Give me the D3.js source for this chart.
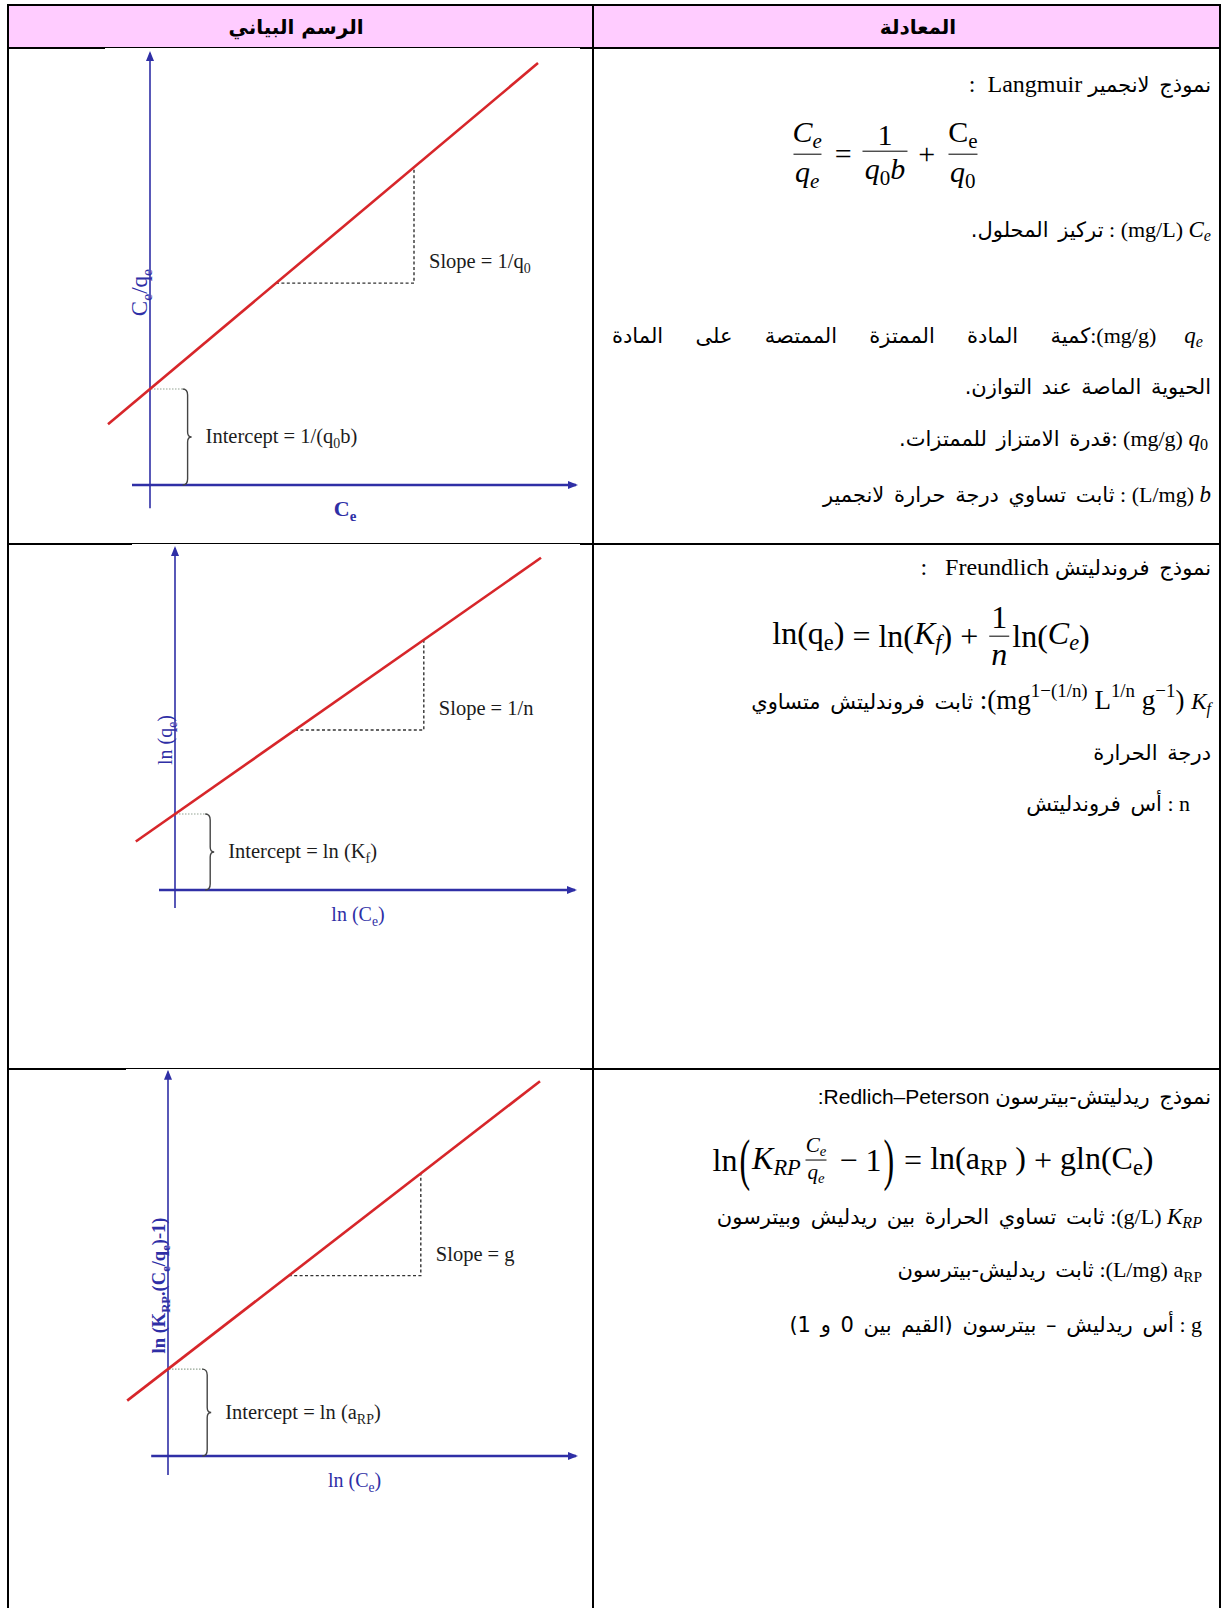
<!DOCTYPE html>
<html>
<head>
<meta charset="utf-8">
<script src="https://cdn.jsdelivr.net/npm/d3@7"></script>
<style>
  body { margin: 0; background: #fff; }
  #page { position: relative; overflow: hidden; font-family: "Liberation Serif", "DejaVu Sans", serif; }
  #page svg { position: absolute; left: 0; top: 0; }
  .ln { position: absolute; white-space: pre; line-height: 1.25; color: #000; transform: translateY(-50%); }
  .ar { unicode-bidi: isolate; direction: rtl; font-family: "DejaVu Sans", sans-serif; font-size: 21px; word-spacing: 3px; }
  .tx { font-size: 22px; }
  .tt { font-size: 24px; }
  .tb { font-size: 27px; }
  .mi { font-size: 23px; font-style: italic; }
  .mu { font-size: 23px; }
  .sans { font-family: "Liberation Sans", sans-serif; font-size: 21px; }
  .sub { font-size: 70%; vertical-align: -0.3em; }
  .sup { font-size: 70%; vertical-align: 0.62em; }
  .up { font-style: normal; }
  .eq { position: absolute; display: flex; align-items: center; white-space: nowrap; transform: translate(-50%, -50%); }
  .eq .tx, .eq .mi, .eq .mu, .eq .op { font-size: inherit; }
  .frac { display: inline-flex; flex-direction: column; align-items: center; margin: 0 3px; line-height: 1.12; }
  .frac .den { border-top: 1.7px solid #000; padding: 0 2px; }
  .frac .num { padding: 0 2px; }
  .frac.small { font-size: 66%; }
  .op { margin: 0 8px; }
  .paren { display: inline-block; transform: scaleY(1.8); margin: 0 2px; }
</style>
</head>
<body>
<div id="page"></div>
<script>
// table header
var headers = ["الرسم البياني", "المعادلة"];

// one schematic linear plot per isotherm model
var models = ["Langmuir", "Freundlich", "Redlich–Peterson"];
var intercepts = [2.4, 1.9, 2.05];
var slopes = [0.84, 0.70, 0.73];
var lineFrom = [-1.05, -0.98, -1.02];
var lineTo = [9.7, 9.15, 9.3];
var stepFrom = [3.15, 3.0, 3.02];
var stepTo = [6.6, 6.22, 6.32];
var xAxisExtent = [[-0.45, 10.65], [-0.4, 10.0], [-0.42, 10.2]];
var yAxisExtent = [[-0.58, 10.8], [-0.45, 8.55], [-0.45, 9.06]];
var braceAt = [0.94, 0.88, 0.98];

var xLabels = ["C_{e}", "ln (C_{e})", "ln (C_{e})"];
var yLabels = ["C_{e}/q_{e}", "ln (q_{e})", "ln (K_{RP}.(C_{e}/q_{e})-1)"];
var slopeLabels = ["Slope = 1/q_{0}", "Slope = 1/n", "Slope = g"];
var interceptLabels = ["Intercept = 1/(q_{0}b)", "Intercept = ln (K_{f})", "Intercept = ln (a_{RP})"];

// equation column: titles and definitions, in visual (left to right) order
var titles = [
  [["tt", ":  Langmuir "], ["ar", "نموذج لانجمير"]],
  [["tt", ":   Freundlich "], ["ar", "نموذج فروندليتش"]],
  [["sans", ":Redlich–Peterson "], ["ar", "نموذج ريدليتش-بيترسون"]]
];
var langmuirNotes = [
  [["ar", "تركيز المحلول."], ["tx", " : (mg/L) "], ["mi", "C_{e}"]],
  [["ar", "كمية المادة الممتزة الممتصة على المادة"], ["tx", ":(mg/g) "], ["mi", "q_{e}"]],
  [["ar", "الحيوية الماصة عند التوازن."]],
  [["ar", "قدرة الامتزاز للممتزات."], ["tx", ": (mg/g) "], ["mi", "q_{0}"]],
  [["ar", "ثابت تساوي درجة حرارة لانجمير"], ["tx", " : (L/mg) "], ["mi", "b"]]
];
var freundlichNotes = [
  [["ar", "ثابت فروندليتش متساوي"], ["tb", " :(mg^{1−(1/n)} L^{1/n} g^{−1}) "], ["mi", "K_{f}"]],
  [["ar", "درجة الحرارة"]],
  [["ar", "أس فروندليتش"], ["tx", " : n"]]
];
var redlichNotes = [
  [["ar", "ثابت تساوي الحرارة بين ريدليش وبيترسون"], ["tx", " :(g/L) "], ["mi", "K_{RP}"]],
  [["ar", "ثابت ريدليش-بيترسون"], ["tx", " :(L/mg) a_{RP}"]],
  [["ar", "أس ريدليش – بيترسون (القيم بين 0 و 1)"], ["tx", " : g"]]
];

// equations as token lists
var langmuirEq = [
  ["frac", ["mi", "C_{e}"], ["mi", "q_{e}"]], ["op", "="],
  ["frac", ["tx", "1"], ["mi", "q_{0}b"]], ["op", "+"],
  ["frac", ["tx", "C_{e}"], ["mi", "q_{0}"]]
];
var freundlichEq = [
  ["tx", "ln(q_{e})"], ["op", "="], ["tx", "ln("], ["mi", "K_{f}"], ["tx", ")"], ["op", "+"],
  ["frac", ["tx", "1"], ["mi", "n"]], ["tx", "ln("], ["mi", "C_{e}"], ["tx", ")"]
];
var redlichEq = [
  ["tx", "ln"], ["paren", "("], ["mi", "K_{RP}"], ["small", ["mi", "C_{e}"], ["mi", "q_{e}"]],
  ["op", "−"], ["tx", "1"], ["paren", ")"], ["op", "="], ["tx", "ln(a_{RP} )"], ["op", "+"], ["tx", "gln(C_{e})"]
];

// ---- layout ----
var W = 1228, H = 1608;
var colX = [8, 593, 1220];
var rowY = [5, 48, 544, 1069];
var plotOrigin = [[150, 485], [175, 890], [168, 1456]];
var unitX = [40, 40, 40], unitY = [40, 40, 42.4];
var imageLeft = [105, 132, 126];
var blue = "#2f2fa6", red = "#d7262a";

var page = d3.select("#page").style("width", W + "px").style("height", H + "px");
var svg = page.append("svg").attr("width", W).attr("height", H);

svg.append("defs").append("marker")
    .attr("id", "arrow")
    .attr("viewBox", "0 0 10 10")
    .attr("refX", 8).attr("refY", 5)
    .attr("markerWidth", 10).attr("markerHeight", 10)
    .attr("markerUnits", "userSpaceOnUse")
    .attr("orient", "auto")
  .append("path")
    .attr("d", "M0,1L10,5L0,9Z")
    .attr("fill", blue);

// header band
svg.append("rect")
    .attr("x", colX[0]).attr("y", rowY[0])
    .attr("width", colX[2] - colX[0]).attr("height", rowY[1] - rowY[0])
    .attr("fill", "#ffccff");

// grid lines
svg.selectAll(".hrule")
    .data(rowY)
  .enter().append("line")
    .attr("class", "hrule")
    .attr("x1", colX[0] - 1).attr("x2", colX[2] + 1)
    .attr("y1", function(d) { return d; }).attr("y2", function(d) { return d; })
    .attr("stroke", "#000").attr("stroke-width", 2);

svg.selectAll(".vrule")
    .data(colX)
  .enter().append("line")
    .attr("class", "vrule")
    .attr("x1", function(d) { return d; }).attr("x2", function(d) { return d; })
    .attr("y1", rowY[0] - 1).attr("y2", H)
    .attr("stroke", "#000").attr("stroke-width", 2);

svg.selectAll(".head")
    .data(headers)
  .enter().append("text")
    .attr("class", "head")
    .attr("x", function(d, i) { return i == 0 ? 296 : 918; })
    .attr("y", 34)
    .attr("text-anchor", "middle")
    .attr("font-family", "DejaVu Sans, sans-serif")
    .attr("font-weight", "bold")
    .attr("font-size", 20)
    .text(function(d) { return d; });

// svg text with _{sub}
function svgRich(text, str, drop) {
  var re = /_\{([^}]*)\}/g, last = 0, m, lift = false;
  function plain(s) {
    var ts = text.append("tspan").text(s);
    if (lift) ts.attr("dy", -drop);
    lift = false;
  }
  while ((m = re.exec(str))) {
    if (m.index > last) plain(str.slice(last, m.index));
    text.append("tspan").attr("dy", drop).attr("font-size", "68%").text(m[1]);
    lift = true;
    last = re.lastIndex;
  }
  if (last < str.length) plain(str.slice(last));
}

// ---- plots ----
models.forEach(function(name, i) {
  var o = plotOrigin[i];
  var x = d3.scaleLinear().domain([0, 1]).range([o[0], o[0] + unitX[i]]);
  var y = d3.scaleLinear().domain([0, 1]).range([o[1], o[1] - unitY[i]]);
  var fit = function(v) { return intercepts[i] + slopes[i] * v; };
  var g = svg.append("g").attr("class", "plot plot-" + i);

  var top = rowY[i + 1], bottom = i + 2 < rowY.length ? rowY[i + 2] - 2 : H;
  g.append("rect")
      .attr("x", imageLeft[i]).attr("y", top)
      .attr("width", 580 - imageLeft[i]).attr("height", bottom - top)
      .attr("fill", "#fff");

  // axes
  g.append("line")
      .attr("x1", x(xAxisExtent[i][0])).attr("x2", x(xAxisExtent[i][1]))
      .attr("y1", y(0)).attr("y2", y(0))
      .attr("stroke", blue).attr("stroke-width", 2.4)
      .attr("marker-end", "url(#arrow)");
  g.append("line")
      .attr("x1", x(0)).attr("x2", x(0))
      .attr("y1", y(yAxisExtent[i][0])).attr("y2", y(yAxisExtent[i][1]))
      .attr("stroke", blue).attr("stroke-width", 1.6)
      .attr("marker-end", "url(#arrow)");

  var line = d3.line()
      .x(function(d) { return x(d[0]); })
      .y(function(d) { return y(d[1]); });

  // slope step
  g.append("path")
      .attr("d", line([[stepFrom[i], fit(stepFrom[i])], [stepTo[i], fit(stepFrom[i])], [stepTo[i], fit(stepTo[i])]]))
      .attr("fill", "none")
      .attr("stroke", "#333").attr("stroke-width", 1.4)
      .attr("stroke-dasharray", "3,2.4");

  // intercept brace
  var bx = x(braceAt[i]), y0 = y(intercepts[i]), y1 = y(0), ym = (y0 + y1) / 2;
  g.append("line")
      .attr("x1", x(0) + 1).attr("x2", bx - 3)
      .attr("y1", y0).attr("y2", y0)
      .attr("stroke", "#93a493").attr("stroke-width", 1.2)
      .attr("stroke-dasharray", "1.5,1.5");
  g.append("path")
      .attr("d", "M" + (bx - 5) + "," + y0 + "Q" + bx + "," + y0 + " " + bx + "," + (y0 + 6) +
                 "L" + bx + "," + (ym - 5) + "Q" + bx + "," + ym + " " + (bx + 4) + "," + ym +
                 "Q" + bx + "," + ym + " " + bx + "," + (ym + 5) +
                 "L" + bx + "," + (y1 - 6) + "Q" + bx + "," + y1 + " " + (bx - 5) + "," + y1)
      .attr("fill", "none")
      .attr("stroke", "#444").attr("stroke-width", 1.4);

  // fitted line
  g.append("path")
      .attr("d", line([[lineFrom[i], fit(lineFrom[i])], [lineTo[i], fit(lineTo[i])]]))
      .attr("stroke", red).attr("stroke-width", 2.6);

  // labels
  var t = g.append("text")
      .attr("x", x(stepTo[i]) + 15).attr("y", y(fit(stepFrom[i])) - 15)
      .attr("font-size", 20.5).attr("fill", "#1c1c1c");
  svgRich(t, slopeLabels[i], 5);

  t = g.append("text")
      .attr("x", bx + 18).attr("y", ym + 6)
      .attr("font-size", 20.5).attr("fill", "#1c1c1c");
  svgRich(t, interceptLabels[i], 5);

  var xm = (x(xAxisExtent[i][0]) + x(xAxisExtent[i][1])) / 2 - 9;
  t = g.append("text")
      .attr("x", xm).attr("y", y(0) + 31)
      .attr("text-anchor", "middle")
      .attr("font-size", i == 0 ? 22 : 20)
      .attr("font-weight", i == 0 ? "bold" : "normal")
      .attr("fill", blue);
  svgRich(t, xLabels[i], 5);

  var ymid = (y(yAxisExtent[i][0]) + y(yAxisExtent[i][1])) / 2 + 12;
  t = g.append("text")
      .attr("transform", "translate(" + (x(0) - 3) + "," + ymid + ") rotate(-90)")
      .attr("text-anchor", "middle")
      .attr("font-size", i == 0 ? 23 : (i == 2 ? 18.5 : 20))
      .attr("font-weight", i == 2 ? "bold" : "normal")
      .attr("fill", blue);
  svgRich(t, yLabels[i], 5);
});

// ---- equation column ----
function rich(sel, str, kind) {
  var w = sel.append("span").attr("class", kind);
  var re = /([_^])\{([^}]*)\}/g, last = 0, m;
  while ((m = re.exec(str))) {
    if (m.index > last) w.append("span").text(str.slice(last, m.index));
    var upright = kind == "mi" && /^[0-9]+$/.test(m[2]);
    w.append("span")
        .attr("class", (m[1] == "_" ? "sub" : "sup") + (upright ? " up" : ""))
        .text(m[2]);
    last = re.lastIndex;
  }
  if (last < str.length) w.append("span").text(str.slice(last));
}

function addLine(segs, yc, right, left) {
  var div = page.append("div").attr("class", "ln").style("top", yc + "px");
  if (left != null) {
    div.style("left", left + "px").style("width", (right - left) + "px")
       .style("white-space", "nowrap")
       .style("text-align", "justify").style("text-align-last", "justify");
  } else {
    div.style("right", (W - right) + "px");
  }
  segs.forEach(function(s) {
    if (s[0] == "ar") div.append("span").attr("class", "ar").text(s[1]);
    else rich(div, s[1], s[0]);
  });
}

function addEq(tokens, cx, cy, size) {
  var div = page.append("div").attr("class", "eq")
      .style("left", cx + "px").style("top", cy + "px")
      .style("font-size", size + "px");
  tokens.forEach(function(tk) {
    if (tk[0] == "frac" || tk[0] == "small") {
      var f = div.append("span").attr("class", tk[0] == "small" ? "frac small" : "frac");
      rich(f.append("span").attr("class", "num"), tk[1][1], tk[1][0]);
      rich(f.append("span").attr("class", "den"), tk[2][1], tk[2][0]);
    } else if (tk[0] == "op") {
      div.append("span").attr("class", "op").text(tk[1]);
    } else if (tk[0] == "paren") {
      div.append("span").attr("class", "paren").text(tk[1]);
    } else {
      rich(div, tk[1], tk[0]);
    }
  });
}

// Langmuir row
addLine(titles[0], 84, 1211);
addEq(langmuirEq, 885, 154, 30);
addLine(langmuirNotes[0], 231, 1211);
addLine(langmuirNotes[1], 337, 1203, 612);
addLine(langmuirNotes[2], 387, 1211);
addLine(langmuirNotes[3], 440, 1208);
addLine(langmuirNotes[4], 495, 1211);

// Freundlich row
addLine(titles[1], 567, 1211);
addEq(freundlichEq, 931, 636, 32);
addLine(freundlichNotes[0], 699, 1211);
addLine(freundlichNotes[1], 753, 1211);
addLine(freundlichNotes[2], 804, 1190);

// Redlich-Peterson row
addLine(titles[2], 1097, 1211);
addEq(redlichEq, 933, 1160, 32);
addLine(redlichNotes[0], 1218, 1202);
addLine(redlichNotes[1], 1271, 1202);
addLine(redlichNotes[2], 1325, 1202);
</script>
</body>
</html>
